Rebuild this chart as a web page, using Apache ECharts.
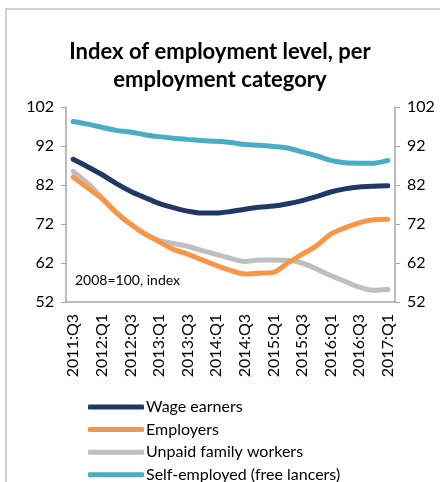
<!DOCTYPE html>
<html>
<head>
<meta charset="utf-8">
<script src="https://cdn.jsdelivr.net/npm/echarts@6/dist/echarts.min.js"></script>
<style>
  html, body { margin: 0; padding: 0; background: #ffffff; }
  #chart { width: 440px; height: 482px; }
</style>
</head>
<body>
<div id="chart"></div>
<script>
// Quarterly index of employment level (2008 = 100)
var quarters = [
  '2011:Q3', '2011:Q4', '2012:Q1', '2012:Q2', '2012:Q3', '2012:Q4',
  '2013:Q1', '2013:Q2', '2013:Q3', '2013:Q4', '2014:Q1', '2014:Q2',
  '2014:Q3', '2014:Q4', '2015:Q1', '2015:Q2', '2015:Q3', '2015:Q4',
  '2016:Q1', '2016:Q2', '2016:Q3', '2016:Q4', '2017:Q1'
];
var wageEarners = [88.6, 86.7, 84.7, 82.4, 80.4, 78.8, 77.3, 76.2, 75.3, 74.8, 74.8, 75.2,
                   75.8, 76.3, 76.6, 77.2, 78.0, 79.0, 80.2, 81.0, 81.5, 81.7, 81.8];
var employers = [84.0, 81.3, 78.5, 75.0, 72.0, 69.5, 67.5, 65.5, 64.3, 62.8, 61.4, 60.1,
                 59.2, 59.4, 59.6, 62.0, 64.2, 66.4, 69.4, 71.0, 72.3, 73.1, 73.2];
var unpaidFamily = [85.5, 82.5, 78.8, 75.0, 72.0, 69.5, 67.8, 67.0, 66.3, 65.2, 64.2, 63.2,
                    62.4, 62.8, 62.8, 62.7, 62.0, 60.5, 58.8, 57.3, 55.8, 55.0, 55.2];
var selfEmployed = [98.3, 97.6, 96.8, 96.0, 95.6, 94.9, 94.4, 94.0, 93.7, 93.4, 93.2, 92.9,
                    92.4, 92.2, 91.9, 91.5, 90.5, 89.5, 88.3, 87.7, 87.6, 87.6, 88.3];
var seriesNames = ['Wage earners', 'Employers', 'Unpaid family workers', 'Self-employed (free lancers)'];
var seriesColors = ['#1f3864', '#f79646', '#bfbfbf', '#4bacc6'];

var FONT = 'Lato';
var chart = echarts.init(document.getElementById('chart'));

function lineSeries(idx, data) {
  return {
    name: seriesNames[idx],
    type: 'line',
    data: data,
    smooth: 0.3,
    symbol: 'none',
    lineStyle: { width: 5, color: seriesColors[idx], cap: 'round', join: 'round' },
    itemStyle: { color: seriesColors[idx] },
    z: 10 - idx
  };
}

// one single-item legend per series, stacked as a column
function legendRow(idx) {
  return {
    orient: 'vertical',
    left: 83,
    top: 394 + idx * 22.6,
    itemWidth: 56,
    itemHeight: 5,
    icon: 'roundRect',
    data: [seriesNames[idx]],
    textStyle: { fontFamily: FONT, fontSize: 16, color: '#000000', padding: [0, 0, 0, -3] }
  };
}

var yAxisBase = {
  type: 'value',
  min: 52,
  max: 102,
  interval: 10,
  axisLine: { show: true, lineStyle: { color: '#a6a6a6', width: 1.5 } },
  axisTick: { show: true, length: 5, lineStyle: { color: '#a6a6a6' } },
  splitLine: { show: false },
  axisLabel: { color: '#000000', fontFamily: FONT, fontSize: 16, margin: 12 }
};

chart.setOption({
  animation: false,
  title: {
    text: 'Index of employment level, per\nemployment category',
    left: 'center',
    top: 33,
    textStyle: { fontFamily: FONT, fontWeight: 'bold', fontSize: 22, color: '#000000', lineHeight: 28 }
  },
  graphic: [
    {
      type: 'rect',
      shape: { x: 6, y: 9, width: 600, height: 600 },
      style: { fill: 'none', stroke: '#d0d0d0', lineWidth: 2 },
      silent: true
    },
    {
      type: 'text',
      left: 75,
      top: 273,
      style: { text: '2008=100, index', fontFamily: FONT, fontSize: 14, fill: '#000000' }
    }
  ],
  grid: { left: 66, right: 45, top: 107, bottom: 180 },
  xAxis: {
    type: 'category',
    data: quarters,
    boundaryGap: true,
    axisLine: { lineStyle: { color: '#a6a6a6', width: 1.5 } },
    axisTick: { show: false },
    axisLabel: { interval: 1, rotate: 90, color: '#000000', fontFamily: FONT, fontSize: 16, margin: 12 }
  },
  yAxis: [
    Object.assign({}, yAxisBase, { position: 'left' }),
    Object.assign({}, yAxisBase, { position: 'right' })
  ],
  legend: [legendRow(0), legendRow(1), legendRow(2), legendRow(3)],
  series: [
    lineSeries(0, wageEarners),
    lineSeries(1, employers),
    lineSeries(2, unpaidFamily),
    lineSeries(3, selfEmployed)
  ]
});
</script>
</body>
</html>
